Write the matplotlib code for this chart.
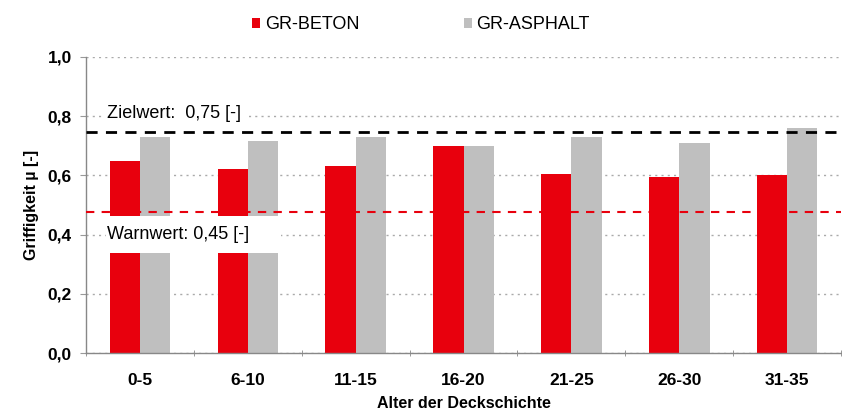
import numpy as np
import matplotlib.pyplot as plt
from matplotlib.patches import Rectangle

plt.rcParams['font.family'] = ['Liberation Sans', 'DejaVu Sans']

# data
categories = ['0-5', '6-10', '11-15', '16-20', '21-25', '26-30', '31-35']
beton = [0.65, 0.62, 0.63, 0.70, 0.605, 0.595, 0.60]
asphalt = [0.73, 0.715, 0.73, 0.70, 0.73, 0.71, 0.76]
zielwert = 0.745
warnwert = 0.475
ziel_text = 'Zielwert:  0,75 [-]'
warn_text = 'Warnwert: 0,45 [-]'

red = '#E8000D'
grey = '#BFBFBF'

fig = plt.figure(figsize=(8.42, 4.15), dpi=100)
ax = fig.add_axes([0.102, 0.149, 0.897, 0.714])

x = np.arange(len(categories))
w = 0.28
b1 = ax.bar(x - w / 2, beton, w, color=red, zorder=2, label='GR-BETON')
b2 = ax.bar(x + w / 2, asphalt, w, color=grey, zorder=2, label='GR-ASPHALT')

ax.set_xlim(-0.5, len(categories) - 0.5)
ax.set_ylim(0, 1.0)
ax.set_yticks(np.arange(0, 1.01, 0.2))
ax.set_yticklabels(['{:.1f}'.format(v).replace('.', ',') for v in np.arange(0, 1.01, 0.2)])
ax.set_xticks(x)
ax.set_xticklabels(categories)
ax.set_xticks(np.arange(-0.5, len(categories), 1), minor=True)
ax.tick_params(axis='x', which='major', length=0, labelsize=12.5, pad=14)
ax.tick_params(axis='x', which='minor', length=4, direction='inout', color='#888888')
ax.tick_params(axis='y', length=4, color='#999999', labelsize=12.5, pad=6)
for lab in ax.get_xticklabels() + ax.get_yticklabels():
    lab.set_fontweight('semibold')

ax.grid(axis='y', linestyle=(0, (1.5, 3)), color='#AAAAAA', linewidth=1, zorder=0)
for s in ['top', 'right']:
    ax.spines[s].set_visible(False)
for s in ['left', 'bottom']:
    ax.spines[s].set_color('#888888')
    ax.spines[s].set_linewidth(1)

# reference lines
ax.axhline(zielwert, color='black', linestyle=(0, (4, 3)), linewidth=2.0, zorder=3)
ax.axhline(warnwert, color=red, linestyle=(0, (4, 3.5)), linewidth=1.5, zorder=3)

ax.text(-0.3, 0.81, ziel_text, fontsize=13, va='center', ha='left', zorder=5,
        bbox=dict(facecolor='white', edgecolor='none', pad=3))
ax.add_patch(Rectangle((-0.315, 0.338), 1.62, 0.125, facecolor='white',
                       edgecolor='none', zorder=4))
ax.text(-0.3, 0.402, warn_text, fontsize=13, va='center', ha='left', zorder=5)

ax.set_ylabel('Griffigkeit µ [-]', fontsize=11.5, fontweight='bold', labelpad=6)
ax.set_xlabel('Alter der Deckschichte', fontsize=11.5, fontweight='bold', labelpad=6)

fig.legend(handles=[b1, b2], loc='center', bbox_to_anchor=(0.5, 0.94), ncol=2,
           frameon=False, fontsize=13, handlelength=0.45, handleheight=0.45,
           handletextpad=0.25, columnspacing=5.8)

plt.savefig('out.png', dpi=100)
